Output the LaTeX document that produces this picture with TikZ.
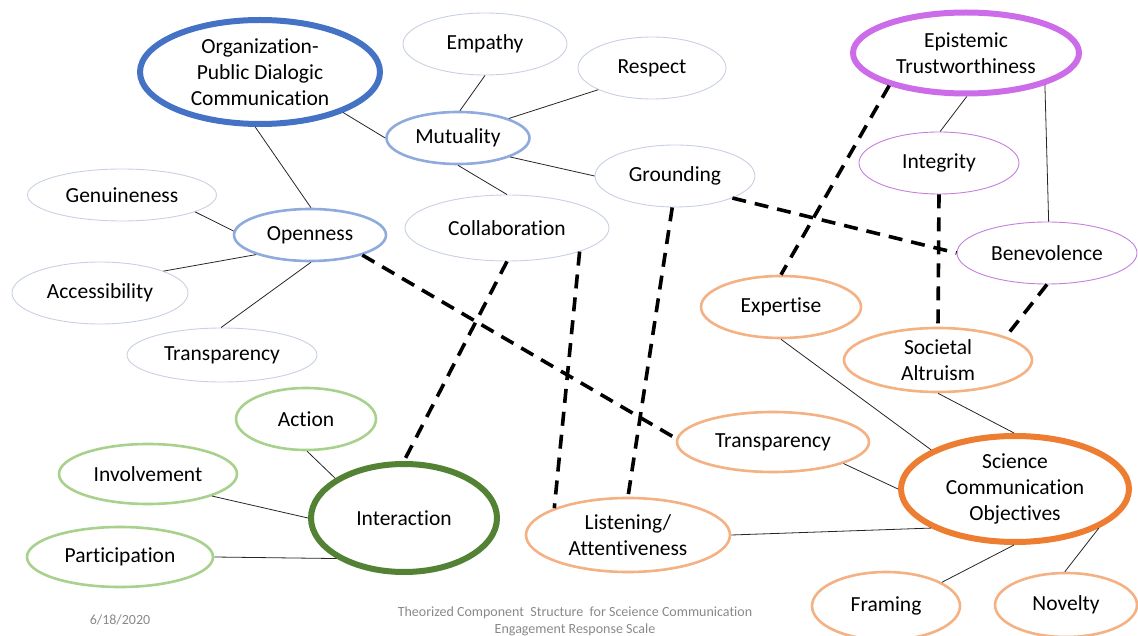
\documentclass[tikz,border=0pt]{standalone}
\usepackage{fontspec}
\setmainfont{Carlito}[Ligatures=NoCommon]
\usetikzlibrary{shapes.geometric}

\definecolor{paleblue}{RGB}{200,209,226}
\definecolor{midblue}{RGB}{143,170,220}
\definecolor{darkblue}{RGB}{68,114,196}
\definecolor{violet}{RGB}{204,108,232}
\definecolor{paleviolet}{RGB}{196,128,222}
\definecolor{paleorange}{RGB}{244,177,131}
\definecolor{darkorange}{RGB}{237,125,49}
\definecolor{palegreen}{RGB}{169,209,142}
\definecolor{darkgreen}{RGB}{84,130,53}
\definecolor{footgray}{RGB}{137,137,137}

\tikzset{
  ell/.style 2 args={ellipse, inner sep=0pt, minimum width=#1pt, minimum height=#2pt,
    align=center, font=\fontsize{21.5}{26}\selectfont, fill=white},
  palenode/.style={draw=paleblue, line width=0.9pt},
  midnode/.style={draw=midblue, line width=2.6pt},
  opdcnode/.style={draw=darkblue, line width=6pt},
  trustnode/.style={draw=violet, line width=6pt},
  violetnode/.style={draw=paleviolet, line width=0.9pt},
  orangenode/.style={draw=paleorange, line width=2.6pt},
  scinode/.style={draw=darkorange, line width=6pt},
  greennode/.style={draw=palegreen, line width=2.6pt},
  inode/.style={draw=darkgreen, line width=6pt},
  link/.style={draw=black!85, line width=0.8pt},
  crosslink/.style={draw=black, line width=3.6pt, dash pattern=on 14pt off 9pt},
  foot/.style={text=footgray, font=\fontsize{14}{17}\selectfont, align=center}
}

\begin{document}
\begin{tikzpicture}[x=1pt, y=-1pt]
\useasboundingbox (0,0) rectangle (1138,636);

% ---- organisation-public dialogic communication cluster ----
\node[ell={240}{104}, opdcnode] (opdc) at (260,72) {Organization-\\Public Dialogic\\Communication};
\node[ell={164}{62}, palenode] (emp) at (485,44) {Empathy};
\node[ell={148}{62}, palenode] (resp) at (652,68) {Respect};
\node[ell={143}{52}, midnode] (mut) at (458,138) {Mutuality};
\node[ell={160}{62}, palenode] (grd) at (675,176) {Grounding};
\node[ell={204}{66}, palenode] (col) at (507,228) {Collaboration};
\node[ell={189}{52}, palenode] (gen) at (122,195) {Genuineness};
\node[ell={152}{52}, midnode] (opn) at (310,235) {Openness};
\node[ell={176}{62}, palenode] (acc) at (100,293) {Accessibility};
\node[ell={190}{54}, palenode] (trl) at (222,355) {Transparency};

% ---- epistemic trustworthiness cluster ----
\node[ell={226}{81}, trustnode] (et) at (966,53) {Epistemic\\Trustworthiness};
\node[ell={160}{62}, violetnode] (integ) at (939,163) {Integrity};
\node[ell={180}{62}, violetnode] (ben) at (1047,253) {Benevolence};

% ---- science communication objectives cluster ----
\node[ell={160}{62}, orangenode] (exp) at (781,307) {Expertise};
\node[ell={188}{64}, orangenode] (sa) at (938,360) {Societal\\Altruism};
\node[ell={192}{60}, orangenode] (trr) at (773,442) {Transparency};
\node[ell={228}{106}, scinode] (sco) at (1015,489) {Science\\Communication\\Objectives};
\node[ell={204}{74}, orangenode] (lis) at (628,535) {Listening/\\Attentiveness};
\node[ell={148}{68}, orangenode] (fra) at (886,606) {Framing};
\node[ell={142}{64}, orangenode] (nov) at (1066,605) {Novelty};

% ---- interaction cluster ----
\node[ell={140}{62}, greennode] (act) at (306,419) {Action};
\node[ell={178}{60}, greennode] (inv) at (148,474) {Involvement};
\node[ell={186}{108}, inode] (ia) at (404,518) {Interaction};
\node[ell={186}{60}, greennode] (par) at (120,557) {Participation};

% ---- thin links inside each cluster ----
\draw[link] (opdc.-26) -- (mut.180);
\draw[link] (opdc.-95) -- (opn.88);
\draw[link] (mut.86) -- (emp.-90);
\draw[link] (mut.21) -- (resp.-158);
\draw[link] (mut.-20) -- (grd.180);
\draw[link] (mut.-90) -- (col.90);
\draw[link] (opn.177) -- (gen.-13);
\draw[link] (opn.-160) -- (acc.19);
\draw[link] (opn.-88) -- (trl.92);
\draw[link] (et.-89) -- (integ.88);
\draw[link] (et.-22) -- (ben.87);
\draw[link] (exp.-90) -- (sco.155);
\draw[link] (sa.-90) -- (sco.91);
\draw[link] (trr.-17) -- (sco.180);
\draw[link] (lis.0) -- (sco.205);
\draw[link] (sco.-91) -- (fra.23);
\draw[link] (sco.-25) -- (nov.92);
\draw[link] (act.-88) -- (ia.150);
\draw[link] (inv.-19) -- (ia.180);
\draw[link] (par.0) -- (ia.-149);

% ---- dashed cross-links between clusters ----
\draw[crosslink] (opn.-21) -- (trr.178);
\draw[crosslink] (col.-90) -- (ia.90);
\draw[crosslink] (col.-18) -- (lis.160);
\draw[crosslink] (grd.-95) -- (lis.90);
\draw[crosslink] (grd.-21) -- (ben.180);
\draw[crosslink] (et.-157) -- (exp.90);
\draw[crosslink] (integ.-90) -- (sa.90);
\draw[crosslink] (ben.-90) -- (sa.19);

% ---- footer ----
\node[foot] (date) at (120,620) {6/18/2020};
\node[foot] (title) at (575,621) {Theorized Component\ \ Structure\ \ for Sceience Communication\\Engagement Response Scale};
\end{tikzpicture}
\end{document}
